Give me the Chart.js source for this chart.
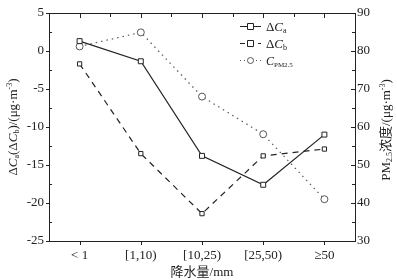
<!DOCTYPE html>
<html>
<head>
<meta charset="utf-8">
<script src="https://cdn.jsdelivr.net/npm/chart.js@4/dist/chart.umd.min.js"></script>
<style>
  html, body { margin: 0; padding: 0; background: #fff; }
  #wrap { width: 397px; height: 280px; position: relative; }
</style>
</head>
<body>
<div id="wrap"><canvas id="rainChart"></canvas></div>
<script>
const categories = ['< 1', '[1,10)', '[10,25)', '[25,50)', '\u226550'];
const deltaCa = [1.3, -1.35, -13.8, -17.6, -11.0];
const deltaCb = [-1.7, -13.5, -21.4, -13.8, -12.9];
const cPm25 = [81.2, 84.9, 68.0, 58.1, 41.0];
const leftTicks = [5, 0, -5, -10, -15, -20, -25];
const rightTicks = [90, 80, 70, 60, 50, 40, 30];

const serif = '"Liberation Serif", "Times New Roman", serif';
const cjk = '"Liberation Serif", "Noto Sans CJK SC", serif';
const ink = '#222';

// draws a run of [text, size, italic, dy] pieces starting at x,y
function drawRuns(ctx, runs, x, y) {
    let cx = x;
    runs.forEach(r => {
        ctx.font = (r[2] ? 'italic ' : '') + r[1] + 'px ' + (r[4] || serif);
        ctx.fillText(r[0], cx, y + (r[3] || 0));
        cx += ctx.measureText(r[0]).width;
    });
    return cx - x;
}
function runsWidth(ctx, runs) {
    let w = 0;
    runs.forEach(r => {
        ctx.font = (r[2] ? 'italic ' : '') + r[1] + 'px ' + (r[4] || serif);
        w += ctx.measureText(r[0]).width;
    });
    return w;
}

const framePlugin = {
    id: 'frame',
    afterDraw(chart) {
        const ctx = chart.ctx;
        const a = chart.chartArea;
        const x = chart.scales.x, y = chart.scales.y, y1 = chart.scales.y1;
        ctx.save();
        ctx.strokeStyle = ink;
        ctx.lineWidth = 1;
        ctx.strokeRect(a.left + 0.5, a.top + 0.5, a.right - a.left, a.bottom - a.top);
        ctx.beginPath();
        // category ticks, top inward, bottom outward
        for (let i = 0; i < categories.length; i++) {
            const px = Math.round(x.getPixelForValue(i)) + 0.5;
            ctx.moveTo(px, a.top); ctx.lineTo(px, a.top + 5);
            ctx.moveTo(px, a.bottom); ctx.lineTo(px, a.bottom + 4);
            if (i < categories.length - 1) {
                const mx = Math.round((x.getPixelForValue(i) + x.getPixelForValue(i + 1)) / 2) + 0.5;
                ctx.moveTo(mx, a.top); ctx.lineTo(mx, a.top + 4);
            }
        }
        // left axis
        leftTicks.forEach(v => {
            const py = Math.round(y.getPixelForValue(v)) + 0.5;
            ctx.moveTo(a.left - 3, py); ctx.lineTo(a.left + 1, py);
            if (v > -25) {
                const my = Math.round(y.getPixelForValue(v - 2.5)) + 0.5;
                ctx.moveTo(a.left, my); ctx.lineTo(a.left + 3, my);
            }
        });
        // right axis
        rightTicks.forEach(v => {
            const py = Math.round(y1.getPixelForValue(v)) + 0.5;
            ctx.moveTo(a.right - 4, py); ctx.lineTo(a.right, py);
            if (v > 30) {
                const my = Math.round(y1.getPixelForValue(v - 5)) + 0.5;
                ctx.moveTo(a.right - 3, my); ctx.lineTo(a.right, my);
            }
        });
        ctx.stroke();

        // axis titles
        ctx.fillStyle = ink;
        ctx.textBaseline = 'alphabetic';
        const left = [['\u0394', 13], ['C', 13, true], ['a', 8, false, 2], ['(\u0394', 13], ['C', 13, true], ['b', 8, false, 2], [')/(\u03bcg\u00b7m', 13], ['-3', 8, false, -5], [')', 13]];
        const cy = (a.top + a.bottom) / 2;
        let w = runsWidth(ctx, left);
        ctx.save();
        ctx.translate(17, cy);
        ctx.rotate(-Math.PI / 2);
        drawRuns(ctx, left, -w / 2, 0);
        ctx.restore();

        const right = [['PM', 13], ['2.5', 8, false, 2], ['\u6d53\u5ea6', 13, false, 0, cjk], ['/(\u03bcg\u00b7m', 13], ['-3', 8, false, -5], [')', 13]];
        w = runsWidth(ctx, right);
        ctx.save();
        ctx.translate(390, cy + 3);
        ctx.rotate(-Math.PI / 2);
        drawRuns(ctx, right, -w / 2, 0);
        ctx.restore();

        // legend
        const lx0 = 240, lx1 = 261, mx = 250.5, tx = 266;
        const rows = [
            { y: 26, dash: [], marker: 'sq', runs: [['\u0394', 13], ['C', 13, true], ['a', 8, false, 2]] },
            { y: 43, dash: [5, 4], marker: 'sq', runs: [['\u0394', 13], ['C', 13, true], ['b', 8, false, 2]] },
            { y: 60, dash: [1, 3], marker: 'ci', runs: [['C', 12, true], ['PM2.5', 7, false, 2]] }
        ];
        rows.forEach(r => {
            ctx.setLineDash(r.dash);
            ctx.strokeStyle = r.marker === 'ci' ? '#555' : ink;
            ctx.beginPath();
            ctx.moveTo(lx0, r.y + 0.5); ctx.lineTo(lx1, r.y + 0.5);
            ctx.stroke();
            ctx.setLineDash([]);
            ctx.fillStyle = '#fff';
            ctx.beginPath();
            if (r.marker === 'sq') ctx.rect(mx - 3, r.y - 2.5, 6, 6);
            else ctx.arc(mx, r.y + 0.5, 3, 0, Math.PI * 2);
            ctx.fill(); ctx.stroke();
            ctx.fillStyle = ink;
            drawRuns(ctx, r.runs, tx, r.y + 5);
        });
        ctx.restore();
    }
};

const ctx = document.getElementById('rainChart').getContext('2d');
new Chart(ctx, {
    type: 'line',
    data: {
        labels: categories,
        datasets: [
            {
                label: '\u0394Ca',
                data: deltaCa,
                yAxisID: 'y',
                borderColor: ink,
                borderWidth: 1.2,
                pointStyle: 'rect',
                pointRadius: 3.5,
                pointBackgroundColor: '#fff',
                pointBorderColor: ink,
                pointBorderWidth: 1,
                tension: 0
            },
            {
                label: '\u0394Cb',
                data: deltaCb,
                yAxisID: 'y',
                borderColor: ink,
                borderWidth: 1.2,
                borderDash: [6, 5],
                pointStyle: 'rect',
                pointRadius: 3,
                pointBackgroundColor: '#fff',
                pointBorderColor: ink,
                pointBorderWidth: 1,
                tension: 0
            },
            {
                label: 'CPM2.5',
                data: cPm25,
                yAxisID: 'y1',
                borderColor: '#555',
                borderWidth: 1.2,
                borderDash: [1.5, 4],
                pointStyle: 'circle',
                pointRadius: 3.5,
                pointBackgroundColor: '#fff',
                pointBorderColor: '#555',
                pointBorderWidth: 1,
                tension: 0
            }
        ]
    },
    options: {
        responsive: true,
        maintainAspectRatio: false,
        animation: false,
        layout: { padding: { top: 13, bottom: 0, left: 0, right: 0 } },
        plugins: {
            legend: { display: false },
            tooltip: { enabled: false }
        },
        scales: {
            x: {
                offset: true,
                grid: { display: false, drawTicks: false },
                border: { display: false },
                ticks: { color: ink, font: { family: serif, size: 13 }, padding: 7 },
                title: { display: true, text: '\u964d\u6c34\u91cf/mm', color: ink, font: { family: cjk, size: 13 }, padding: { top: 0, bottom: 0 } },
                afterFit(s) { s.height = 39; }
            },
            y: {
                position: 'left',
                min: -25,
                max: 5,
                grid: { display: false, drawTicks: false },
                border: { display: false },
                ticks: { stepSize: 5, color: ink, font: { family: serif, size: 13 }, padding: 5 },
                afterFit(s) { s.width = 49; }
            },
            y1: {
                position: 'right',
                min: 30,
                max: 90,
                grid: { display: false, drawTicks: false },
                border: { display: false },
                ticks: { stepSize: 10, color: ink, font: { family: serif, size: 13 }, padding: 2 },
                afterFit(s) { s.width = 42; }
            }
        }
    },
    plugins: [framePlugin]
});
</script>
</body>
</html>
